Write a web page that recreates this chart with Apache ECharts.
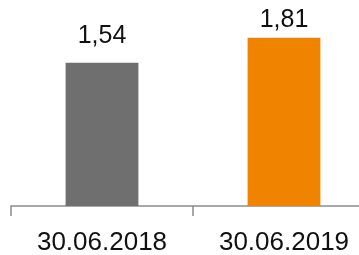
<!DOCTYPE html>
<html>
<head>
<meta charset="utf-8">
<script src="https://cdn.jsdelivr.net/npm/echarts@6/dist/echarts.min.js"></script>
<style>
html, body { margin: 0; padding: 0; background: #fff; }
#chart { width: 359px; height: 255px; }
</style>
</head>
<body>
<div id="chart"></div>
<script>
var categories = ['30.06.2018', '30.06.2019'];
var values = [1.54, 1.81];
var barColors = ['#6f6f6f', '#f08400'];
var labelGaps = [14, 5];

var chart = echarts.init(document.getElementById('chart'));

var option = {
    animation: false,
    grid: {
        left: 11,
        right: -16,
        top: 20,
        bottom: 49,
        containLabel: false,
        outerBoundsMode: 'none'
    },
    xAxis: {
        type: 'category',
        data: categories,
        axisLine: { lineStyle: { color: '#8c8c8c', width: 1.5 } },
        axisTick: { show: true, length: 10, lineStyle: { color: '#8c8c8c', width: 1.5 } },
        axisLabel: {
            margin: 24,
            color: '#111',
            fontSize: 26,
            fontFamily: 'Liberation Sans'
        }
    },
    yAxis: {
        type: 'value',
        min: 0,
        max: 2,
        show: false
    },
    series: [
        {
            type: 'bar',
            barWidth: '40%',
            data: values.map(function (v, i) {
                return {
                    value: v,
                    itemStyle: { color: barColors[i] },
                    label: { distance: labelGaps[i] }
                };
            }),
            label: {
                show: true,
                position: 'top',
                color: '#111',
                fontSize: 25,
                fontFamily: 'Liberation Sans',
                formatter: function (p) {
                    return p.value.toFixed(2).replace('.', ',');
                }
            }
        }
    ]
};

chart.setOption(option);
</script>
</body>
</html>
